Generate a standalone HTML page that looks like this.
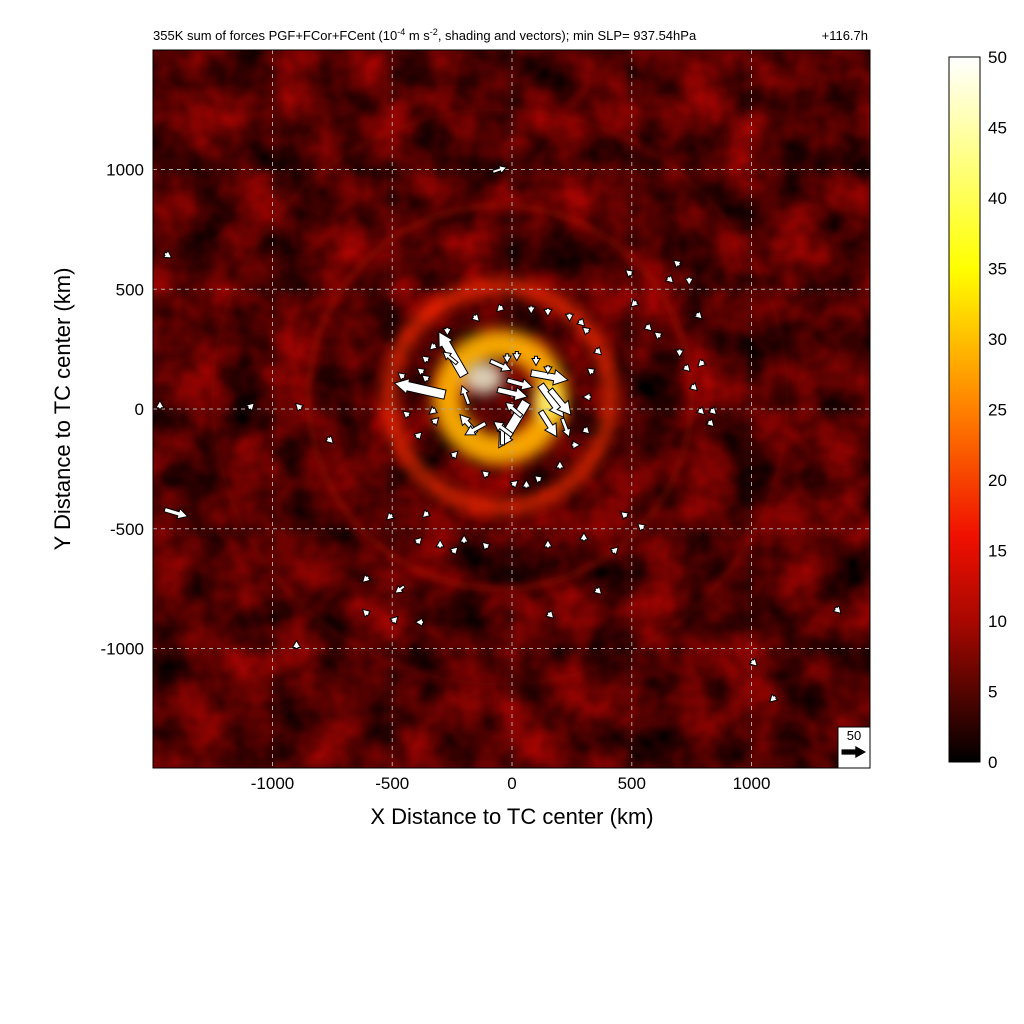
<!DOCTYPE html>
<html><head><meta charset="utf-8"><style>
html,body{margin:0;padding:0;background:#fff;width:1024px;height:1024px;overflow:hidden}
text{font-family:"Liberation Sans",sans-serif}
</style></head><body>
<svg id="chart" width="1024" height="1024" viewBox="0 0 1024 1024" xmlns="http://www.w3.org/2000/svg">
<defs>
<filter id="noise" x="0" y="0" width="100%" height="100%" color-interpolation-filters="sRGB">
<feTurbulence type="fractalNoise" baseFrequency="0.022" numOctaves="3" seed="11"/>
<feColorMatrix type="matrix" values="0 0 0 0.85 -0.1  0 0 0 0.03 -0.01  0 0 0 0.02 -0.01  0 0 0 0 1"/>
</filter>
<filter id="blur8" x="-50%" y="-50%" width="200%" height="200%"><feGaussianBlur stdDeviation="7"/></filter>
<filter id="blur4" x="-50%" y="-50%" width="200%" height="200%"><feGaussianBlur stdDeviation="4"/></filter>
<linearGradient id="cbar" x1="0" y1="1" x2="0" y2="0">
<stop offset="0" stop-color="#000"/>
<stop offset="0.2" stop-color="#a80800"/>
<stop offset="0.32" stop-color="#f01000"/>
<stop offset="0.5" stop-color="#ff8000"/>
<stop offset="0.7" stop-color="#ffff00"/>
<stop offset="1" stop-color="#ffffff"/>
</linearGradient>
<clipPath id="plotclip"><rect x="153" y="50" width="717" height="718"/></clipPath>
</defs>
<text x="153" y="40" font-size="13">355K sum of forces PGF+FCor+FCent (10<tspan dy="-5" font-size="9">-4</tspan><tspan dy="5"> m s</tspan><tspan dy="-5" font-size="9">-2</tspan><tspan dy="5">, shading and vectors); min SLP= 937.54hPa</tspan></text>
<text x="868" y="40" font-size="13" text-anchor="end">+116.7h</text>
<g id="plot" clip-path="url(#plotclip)">
<rect x="153" y="50" width="717" height="718" fill="#300000"/>
<rect x="153" y="50" width="717" height="718" filter="url(#noise)"/>
<g id="rings"></g>
<g id="grid"></g>
<g id="vectors"></g>
</g>
<rect x="153" y="50" width="717" height="718" fill="none" stroke="#000" stroke-width="1"/>
<g id="key">
<rect x="838" y="727" width="32" height="41" fill="#fff" stroke="#000"/>
<text x="854" y="740" font-size="13" text-anchor="middle">50</text>
</g>
<g id="axes"></g>
<text x="512" y="824" font-size="22" text-anchor="middle">X Distance to TC center (km)</text>
<text transform="translate(70,409) rotate(-90)" font-size="22" text-anchor="middle">Y Distance to TC center (km)</text>
<rect x="949" y="57" width="31" height="705" fill="url(#cbar)" stroke="#000"/>
<g id="cbticks"></g>
</svg>
<script>
const xTicks=[-1000,-500,0,500,1000];
const yTicks=[1000,500,0,-500,-1000];
const cbTicks=[0,5,10,15,20,25,30,35,40,45,50];
// rings: radius km, width km, color, opacity
const ringR=[220,460,800,1200];
const ringW=[120,55,30,25];
const ringC=['#ffb000','#ff3000','#b01000','#900800'];
const ringO=[0.95,0.8,0.4,0.25];
// vectors: x km, y km, u, v
const vx=[-200,-280,120,60,160,-90,-150,-40,0,-110,210,80,-20,-60,120,-180,40,-230,-20,20,100,150,
 -350,-350,-320,-330,-450,-430,-400,-250,-100,0,60,120,200,250,300,330,340,350,320,280,240,150,80,-40,-160,-270,-320,-370,
 500,520,560,620,700,720,750,780,820,830,800,770,740,700,650,550,480,420,300,150,-100,-200,-250,-300,-400,-500,-600,-770,-880,
 -80,-1450,-1450,-350,-500,-370,-600,1350,150,350,-450,1000,1100,-900,-1100,-1470];
const vy=[140,60,100,30,80,200,-100,-150,-110,-60,-40,150,120,80,-10,20,-30,190,230,240,220,180,
 200,120,0,-60,130,-30,-120,-200,-280,-320,-330,-300,-250,-150,-80,50,150,250,320,370,400,420,430,430,390,340,270,150,
 560,450,350,300,250,180,100,0,-50,0,200,400,550,600,550,-500,-450,-600,-550,-580,-580,-560,-600,-580,-560,-440,-700,-120,0,
 990,650,-420,-430,-890,-890,-860,-830,-850,-750,-740,-1050,-1200,-1000,1,1];
const vu=[-55,-110,50,-60,45,45,-35,0,-40,-45,15,80,55,65,35,-15,-35,-30,0,0,0,0,
 -6,-6,-6,5,-6,-6,6,5,-6,6,0,-6,0,6,6,-6,-6,6,-6,6,0,0,0,-6,6,0,-6,-6,
 -6,-6,6,-6,0,6,6,6,6,6,-6,6,0,-6,6,-6,-6,6,0,0,-6,0,6,0,6,-6,-6,6,-6,
 30,15,50,-6,6,-6,-6,6,6,6,-20,6,-6,0,6,0,0];
const vv=[95,25,-70,-100,-55,-20,40,50,30,-25,-40,-15,-15,-15,-55,40,30,25,-20,-20,-20,-15,
 5,5,-5,5,5,5,6,5,5,5,6,5,6,0,-6,0,5,-6,5,-6,-6,-6,-6,-6,-6,-6,-6,5,
 5,-6,-6,5,-6,-6,-6,-6,-6,-6,-6,-6,-6,5,-6,5,5,6,6,6,6,6,6,6,6,-6,-6,-6,6,
 10,-10,-15,-6,6,0,6,-6,-6,-6,-15,-6,-6,6,6,6,6];

const NS='http://www.w3.org/2000/svg';
const X=v=>512+v*0.2395, Y=v=>409-v*0.2395;
const scale=0.46;
function mk(t,a,p){const e=document.createElementNS(NS,t);for(const k in a)e.setAttribute(k,a[k]);p.appendChild(e);return e;}
const rings=document.getElementById('rings');
for(let i=0;i<ringR.length;i++){
 const c=mk('circle',{cx:X(-50),cy:Y(50),r:ringR[i]*0.2395,fill:'none',stroke:ringC[i],'stroke-width':ringW[i]*0.2395,opacity:ringO[i],filter:i<2?'url(#blur8)':'url(#blur4)'},rings);
 
 
}
const core=mk('ellipse',{cx:X(-120),cy:Y(130),rx:20,ry:16,fill:'#ffffe0',opacity:0.8,filter:'url(#blur8)'},rings);


const core2=mk('ellipse',{cx:X(150),cy:Y(30),rx:13,ry:20,fill:'#ffff80',opacity:0.8,filter:'url(#blur8)'},rings);


const grid=document.getElementById('grid');
xTicks.forEach(t=>{const l=mk('line',{x1:X(t),x2:X(t),y1:50,y2:768,stroke:'#aaa','stroke-dasharray':'4 4','stroke-width':1},grid);
 });
yTicks.forEach(t=>{const l=mk('line',{x1:153,x2:870,y1:Y(t),y2:Y(t),stroke:'#aaa','stroke-dasharray':'4 4','stroke-width':1},grid);
 });
function arrow(g,x0,y0,dx,dy,fill,stroke){
 let L=Math.hypot(dx,dy)||1; const ux=dx/L, uy=dy/L, px=-uy, py=ux;
 if(L<8){L=8;dx=ux*8;dy=uy*8;}
 const h=Math.min(Math.max(L*0.4,7),14), hw=Math.max(h*0.55,4), sw=Math.max(L*0.09,1.5);
 const bx=x0+dx-ux*h, by=y0+dy-uy*h;
 const pts=[[x0+px*sw,y0+py*sw],[bx+px*sw,by+py*sw],[bx+px*hw,by+py*hw],[x0+dx,y0+dy],[bx-px*hw,by-py*hw],[bx-px*sw,by-py*sw],[x0-px*sw,y0-py*sw]];
 return mk('polygon',{points:pts.map(p=>p.map(v=>v.toFixed(1)).join(',')).join(' '),fill:fill,stroke:stroke,'stroke-width':1},g);
}
const vg=document.getElementById('vectors');
for(let i=0;i<vx.length;i++){
 const a=arrow(vg,X(vx[i]),Y(vy[i]),vu[i]*scale,-vv[i]*scale,'#fff','#000');
 
 
}
const ka=arrow(document.getElementById('key'),842,752,23,0,'#000','#000');


const ax=document.getElementById('axes');
xTicks.forEach(t=>{const e=mk('text',{x:X(t),y:789,'font-size':17,'text-anchor':'middle'},ax);e.textContent=t;
 });
yTicks.forEach(t=>{const e=mk('text',{x:144,y:Y(t)+6,'font-size':17,'text-anchor':'end'},ax);e.textContent=t;
 });
const cb=document.getElementById('cbticks');
cbTicks.forEach(t=>{const y=762-t/50*705;
 const e=mk('text',{x:988,y:y+6,'font-size':17},cb);e.textContent=t;
 });
</script>
</body></html>
